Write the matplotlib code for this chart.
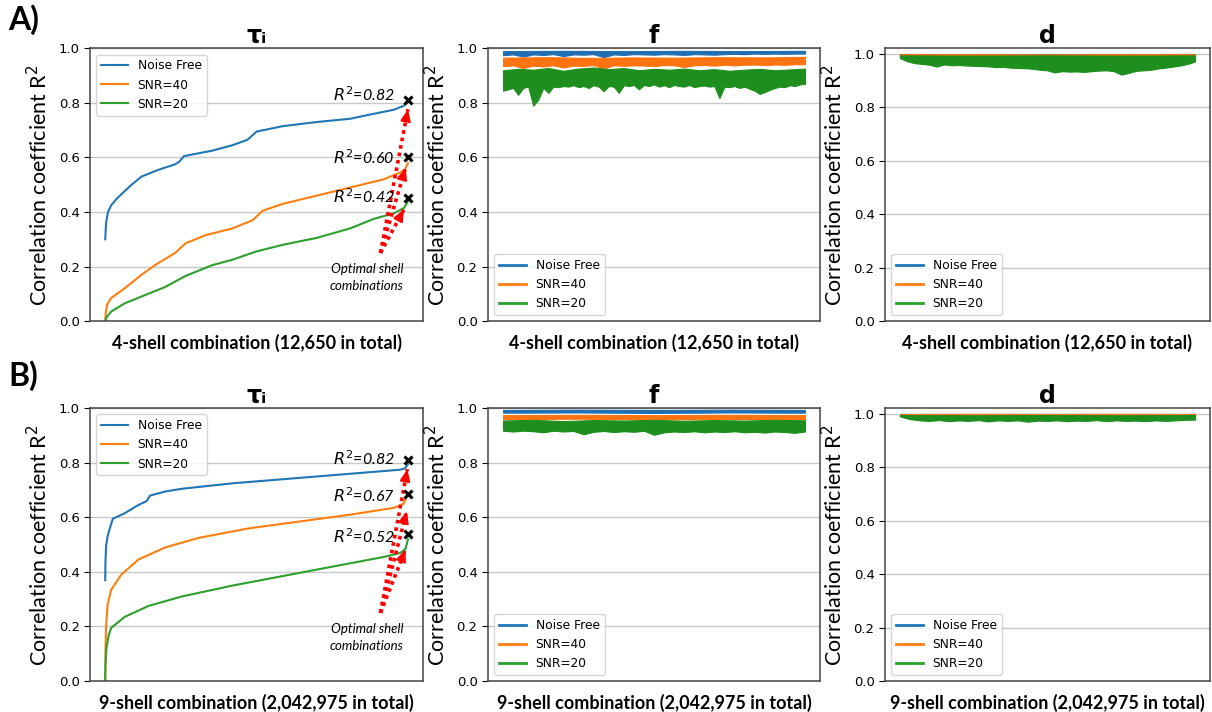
import matplotlib

matplotlib.use("Agg")
import matplotlib.pyplot as plt
import numpy as np
from matplotlib.lines import Line2D

SERIES = ["Noise Free", "SNR=40", "SNR=20"]
COLORS = ["#1f77b4", "#ff7f0e", "#2ca02c"]
BAND_COLORS = ["#1f6fb2", "#ff7410", "#1e8e1e"]
TITLES = ["τᵢ", "f", "d"]
XLABELS = ["4-shell combination (12,650 in total)",
           "9-shell combination (2,042,975 in total)"]

# ---- tau_i (sorted curves), x = fraction of combinations ----
tau_a_x = [
    [0, 0.003, 0.009, 0.02, 0.035, 0.053, 0.087, 0.12, 0.176, 0.231, 0.245,
     0.26, 0.353, 0.42, 0.47, 0.48, 0.5, 0.587, 0.698, 0.809, 0.864, 0.953,
     0.987, 1.0],
    [0, 0.002, 0.006, 0.02, 0.064, 0.12, 0.164, 0.231, 0.265, 0.331, 0.42,
     0.487, 0.52, 0.587, 0.698, 0.809, 0.92, 0.975, 0.99, 1.0],
    [0, 0.005, 0.02, 0.064, 0.142, 0.198, 0.264, 0.353, 0.42, 0.498, 0.587,
     0.698, 0.809, 0.887, 0.953, 0.987, 1.0],
]
tau_a_y = [
    [0.30, 0.36, 0.40, 0.425, 0.445, 0.465, 0.50, 0.53, 0.555, 0.575, 0.585,
     0.605, 0.625, 0.645, 0.665, 0.675, 0.695, 0.715, 0.73, 0.742, 0.755,
     0.775, 0.79, 0.81],
    [0.0, 0.03, 0.06, 0.085, 0.12, 0.17, 0.205, 0.25, 0.285, 0.315, 0.34,
     0.37, 0.405, 0.43, 0.46, 0.49, 0.52, 0.545, 0.555, 0.58],
    [0.0, 0.015, 0.035, 0.065, 0.10, 0.125, 0.165, 0.205, 0.225, 0.255,
     0.28, 0.305, 0.34, 0.375, 0.395, 0.415, 0.44],
]
tau_b_x = [
    [0, 0.001, 0.003, 0.008, 0.014, 0.025, 0.064, 0.109, 0.137, 0.148, 0.198,
     0.253, 0.42, 0.642, 0.864, 0.975, 0.99, 1.0],
    [0, 0.001, 0.003, 0.008, 0.02, 0.053, 0.109, 0.198, 0.309, 0.475, 0.642,
     0.809, 0.953, 0.985, 1.0],
    [0, 0.001, 0.004, 0.012, 0.02, 0.064, 0.142, 0.253, 0.42, 0.587, 0.753,
     0.92, 0.975, 0.992, 1.0],
]
tau_b_y = [
    [0.37, 0.44, 0.495, 0.53, 0.555, 0.595, 0.615, 0.645, 0.66, 0.68, 0.695,
     0.705, 0.725, 0.745, 0.765, 0.775, 0.78, 0.795],
    [0.0, 0.12, 0.2, 0.28, 0.335, 0.39, 0.445, 0.49, 0.525, 0.56, 0.585,
     0.61, 0.635, 0.65, 0.685],
    [0.0, 0.06, 0.12, 0.17, 0.195, 0.235, 0.275, 0.31, 0.35, 0.385, 0.42,
     0.455, 0.47, 0.485, 0.52],
]

# "x" markers, labels and arrow tips per row
best_y = [[0.81, 0.60, 0.45], [0.81, 0.685, 0.54]]
best_text = [["0.82", "0.60", "0.42"], ["0.82", "0.67", "0.52"]]
best_text_y = [[0.83, 0.60, 0.455], [0.816, 0.678, 0.53]]
arrow_tip_x = [[1.0, 0.992, 0.987], [0.998, 0.996, 0.992]]
arrow_tip_y = [[0.777, 0.562, 0.41], [0.777, 0.623, 0.482]]
arrow_start = (0.909, 0.25)

# ---- f and d (noisy traces): upper and lower envelopes ----
f_a_top = [
    [0.990, 0.991, 0.990, 0.991, 0.990, 0.991],
    [0.966, 0.968, 0.965, 0.967, 0.966, 0.968, 0.967, 0.969],
    [0.920, 0.925, 0.922, 0.928, 0.918, 0.926, 0.930, 0.924, 0.928, 0.920,
     0.925, 0.922, 0.926, 0.920, 0.924, 0.918, 0.922, 0.925, 0.920, 0.923,
     0.926],
]
f_a_low = [
    [0.975, 0.978, 0.970, 0.978, 0.976, 0.979, 0.972, 0.978, 0.977, 0.979,
     0.968, 0.978, 0.976, 0.979, 0.978, 0.977, 0.979, 0.978, 0.976, 0.979,
     0.978, 0.977, 0.979, 0.980, 0.979, 0.981, 0.980, 0.981, 0.980, 0.981,
     0.981],
    [0.935, 0.938, 0.928, 0.937, 0.934, 0.938, 0.930, 0.937, 0.936, 0.939,
     0.926, 0.938, 0.936, 0.938, 0.937, 0.935, 0.939, 0.938, 0.932, 0.938,
     0.939, 0.937, 0.940, 0.938, 0.940, 0.941, 0.939, 0.941, 0.940, 0.942,
     0.942],
    [0.845, 0.850, 0.855, 0.830, 0.855, 0.860, 0.790, 0.812, 0.855, 0.837,
     0.860, 0.858, 0.862, 0.860, 0.865, 0.858, 0.862, 0.855, 0.865, 0.860,
     0.843, 0.862, 0.860, 0.837, 0.865, 0.862, 0.866, 0.850, 0.866, 0.862,
     0.868, 0.860, 0.865, 0.858, 0.866, 0.862, 0.860, 0.866, 0.858, 0.862,
     0.864, 0.860, 0.862, 0.818, 0.860, 0.858, 0.862, 0.855, 0.860, 0.852,
     0.845, 0.833, 0.840, 0.848, 0.855, 0.860, 0.858, 0.865, 0.862, 0.868,
     0.870],
]
f_b_top = [
    [0.994, 0.995, 0.994, 0.995, 0.994],
    [0.975, 0.976, 0.975, 0.976, 0.975],
    [0.955, 0.958, 0.953, 0.957, 0.955, 0.958, 0.954, 0.957, 0.955, 0.958,
     0.956],
]
f_b_low = [
    [0.984, 0.985, 0.983, 0.985, 0.984],
    [0.960, 0.962, 0.959, 0.961, 0.960],
    [0.918, 0.915, 0.918, 0.916, 0.912, 0.918, 0.915, 0.917, 0.905, 0.914,
     0.917, 0.913, 0.916, 0.914, 0.918, 0.903, 0.912, 0.915, 0.913, 0.916,
     0.912, 0.915, 0.913, 0.916, 0.912, 0.914, 0.911, 0.915, 0.913, 0.910,
     0.915],
]
d_a_top = [
    [0.999, 0.999, 0.999],
    [0.999, 0.998, 0.999],
    [0.994, 0.993, 0.994, 0.993, 0.994],
]
d_a_low = [
    [0.997, 0.997, 0.997],
    [0.993, 0.992, 0.993],
    [0.984, 0.972, 0.965, 0.962, 0.959, 0.952, 0.960, 0.957, 0.958, 0.956,
     0.955, 0.954, 0.953, 0.950, 0.951, 0.948, 0.947, 0.946, 0.944, 0.940,
     0.938, 0.930, 0.935, 0.933, 0.934, 0.932, 0.935, 0.937, 0.938, 0.935,
     0.922, 0.928, 0.936, 0.938, 0.940, 0.945, 0.948, 0.952, 0.956, 0.962,
     0.971],
]
d_b_top = [
    [0.999, 0.999, 0.999],
    [0.998, 0.998, 0.998],
    [0.995, 0.994, 0.995, 0.994, 0.995],
]
d_b_low = [
    [0.998, 0.998, 0.998],
    [0.996, 0.996, 0.996],
    [0.990, 0.980, 0.975, 0.973, 0.976, 0.972, 0.975, 0.973, 0.976, 0.971,
     0.975, 0.973, 0.975, 0.970, 0.974, 0.973, 0.975, 0.972, 0.974, 0.973,
     0.976, 0.972, 0.975, 0.973, 0.974, 0.972, 0.975, 0.973, 0.975, 0.977,
     0.978],
]

LABEL_FONT = ["Lato", "DejaVu Sans"]

fig = plt.figure(figsize=(12.12, 7.12), dpi=100)
fig.patch.set_facecolor("white")

lefts = [0.0743, 0.4026, 0.7302]
widths = [0.2748, 0.274, 0.268]
bottoms = [0.549, 0.0435]
height = 0.383


def style_axis(ax, row, col):
    ax.set_yticks([0, 0.2, 0.4, 0.6, 0.8, 1.0])
    ax.set_xticks([])
    ax.tick_params(axis="y", labelsize=9.5, length=4)
    ax.grid(axis="y", color="#c8c8c8", lw=1)
    ax.set_axisbelow(True)
    for s in ax.spines.values():
        s.set_color("#444444")
        s.set_linewidth(1.1)
    ax.set_ylabel("Correlation coefficient R$^2$", fontsize=15.5,
                  family=LABEL_FONT, labelpad=5)
    ax.set_xlabel(XLABELS[row], fontsize=13, fontweight="bold",
                  family=LABEL_FONT, labelpad=9)
    ax.set_title(TITLES[col], fontsize=17, fontweight="bold", pad=4)


tau_x = [tau_a_x, tau_b_x]
tau_y = [tau_a_y, tau_b_y]
bands = [[(f_a_top, f_a_low), (d_a_top, d_a_low)],
         [(f_b_top, f_b_low), (d_b_top, d_b_low)]]

for row in range(2):
    # tau_i panel
    ax = fig.add_axes([lefts[0], bottoms[row], widths[0], height])
    for k in range(3):
        ax.plot(tau_x[row][k], tau_y[row][k], color=COLORS[k], lw=1.5,
                label=SERIES[k])
    ax.set_ylim(0, 1.0)
    ax.legend(loc="upper left", fontsize=8.8, handlelength=2.2)
    x0, y0 = arrow_start
    for k in range(3):
        ax.plot(1.0, best_y[row][k], marker="x", color="black", ms=6,
                mew=2.2, clip_on=False)
        ax.text(0.955, best_text_y[row][k], f"$R^2$={best_text[row][k]}",
                ha="right", va="center", fontsize=11.5, style="italic",
                family=LABEL_FONT)
        xt, yt = arrow_tip_x[row][k], arrow_tip_y[row][k]
        ax.plot([x0, xt], [y0, yt], color="red", lw=2.6,
                linestyle=(0, (1, 1.1)))
        ax.annotate("", xy=(xt, yt),
                    xytext=(xt - 0.04 * (xt - x0), yt - 0.04 * (yt - y0)),
                    arrowprops=dict(arrowstyle="-|>,head_width=0.3,head_length=0.7",
                                    color="red", lw=1.5,
                                    shrinkA=0, shrinkB=0))
    ax.text(0.864, 0.16, "Optimal shell\ncombinations", ha="center",
            va="center", fontsize=9.5, style="italic", family=LABEL_FONT,
            linespacing=1.45)
    style_axis(ax, row, 0)

    # f and d panels
    for col in (1, 2):
        ax = fig.add_axes([lefts[col], bottoms[row], widths[col], height])
        tops, lows = bands[row][col - 1]
        for k in range(3):
            xt = np.linspace(0, 1, len(tops[k]))
            xl = np.linspace(0, 1, len(lows[k]))
            top_on_low = np.interp(xl, xt, tops[k])
            ax.fill_between(xl, lows[k], top_on_low, color=BAND_COLORS[k],
                            lw=0.8, edgecolor=BAND_COLORS[k])
        ax.set_ylim(0, 1.0 if col == 1 else 1.02)
        handles = [Line2D([], [], color=COLORS[k], lw=2) for k in range(3)]
        ax.legend(handles, SERIES, loc="lower left", fontsize=8.8,
                  handlelength=2.2)
        style_axis(ax, row, col)

fig.text(0.007, 0.972, "A)", fontsize=23, fontweight="bold", va="center",
         family=LABEL_FONT)
fig.text(0.007, 0.472, "B)", fontsize=23, fontweight="bold", va="center",
         family=LABEL_FONT)

fig.savefig("out.png", dpi=100, facecolor="white")
